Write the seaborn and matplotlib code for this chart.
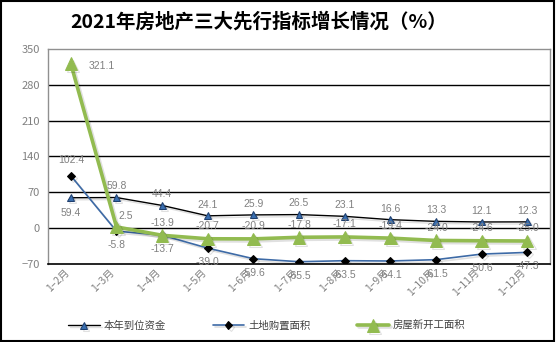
import matplotlib
matplotlib.use("Agg")
import matplotlib.pyplot as plt
import matplotlib.patheffects as pe
import seaborn as sns
import pandas as pd
from matplotlib.patches import Rectangle

months = ["1–2月", "1–3月", "1–4月", "1–5月", "1–6月", "1–7月",
          "1–8月", "1–9月", "1–10月", "1–11月", "1–12月"]
funds = [59.4, 59.8, 44.4, 24.1, 25.9, 26.5, 23.1, 16.6, 13.3, 12.1, 12.3]
land = [102.4, -5.8, -13.7, -39.0, -59.6, -65.5, -63.5, -64.1, -61.5, -50.6, -47.3]
starts = [321.1, 2.5, -13.9, -20.7, -20.9, -17.8, -17.1, -19.4, -24.0, -24.6, -25.0]
series_names = ["本年到位资金", "土地购置面积", "房屋新开工面积"]
yticks = [-70, 0, 70, 140, 210, 280, 350]

sns.set_theme(style="white")
plt.rcParams["font.family"] = ["Noto Sans CJK SC", "DejaVu Sans"]
plt.rcParams["axes.unicode_minus"] = True

fig = plt.figure(figsize=(5.56, 3.42), dpi=100)
ax = fig.add_axes([0.0863, 0.228, 0.903, 0.629])

df = pd.DataFrame({"month": months, "funds": funds, "land": land, "starts": starts})
df["pos"] = range(len(months))

shadow = [pe.SimpleLineShadow(offset=(1.5, -1.5), alpha=0.12, shadow_color="black"),
          pe.Normal()]

sns.lineplot(data=df, x="pos", y="funds", ax=ax, color="black", lw=1.0,
             marker="^", markersize=5, markerfacecolor="#3a6fb0",
             markeredgecolor="#1f3f6e", label=series_names[0], sort=False)
sns.lineplot(data=df, x="pos", y="land", ax=ax, color="#3d6aa6", lw=1.2,
             marker="D", markersize=4, markerfacecolor="black",
             markeredgecolor="black", label=series_names[1], sort=False)
sns.lineplot(data=df, x="pos", y="starts", ax=ax, color="#92bb50", lw=2.6,
             marker="^", markersize=9, markerfacecolor="#92bb50",
             markeredgecolor="#92bb50", label=series_names[2], sort=False)
for ln in ax.get_lines():
    ln.set_path_effects(shadow)

ax.set_xlim(-0.5, len(months) - 0.5)
ax.set_ylim(-70, 350)
ax.set_yticks(yticks)
ax.set_xticks(range(len(months)))
ax.set_xticklabels(months, rotation=45, ha="right", va="top",
                   rotation_mode="default", fontsize=7.5, color="#808080")
ax.tick_params(axis="y", labelsize=8, colors="#808080", length=0, pad=6)
ax.tick_params(axis="x", length=0, pad=2)
ax.set_xlabel("")
ax.set_ylabel("")

for y in yticks[1:-1]:
    ax.axhline(y, color="black", lw=1.0, zorder=0)
for side in ["top", "left", "right"]:
    ax.spines[side].set_color("#909090")
    ax.spines[side].set_linewidth(1.0)
ax.spines["bottom"].set_color("black")
ax.spines["bottom"].set_linewidth(1.2)

lab = dict(fontsize=7.5, color="#808080", family=["Liberation Sans", "DejaVu Sans"],
           ha="center", va="center", textcoords="offset points")
for i, v in enumerate(funds):
    dy = -11 if i == 0 else 8
    ax.annotate(f"{v:.1f}", (i, v), xytext=(0, dy), **lab)
for i, v in enumerate(land):
    off = (0, 11) if i == 0 else (0, -10)
    ax.annotate(f"{v:.1f}", (i, v), xytext=off, **lab)
for i, v in enumerate(starts):
    if i == 0:
        off = (22, -2)
    elif i == 1:
        off = (7, 8)
    else:
        off = (0, 9)
    ax.annotate(f"{v:.1f}", (i, v), xytext=off, **lab)

ax.legend_.remove()
handles, labels = ax.get_legend_handles_labels()
fig.legend(handles, labels, loc="center", bbox_to_anchor=(0.48, 0.047), ncol=3,
           frameon=False, fontsize=7.5, handlelength=3, columnspacing=4.5,
           handletextpad=0.4, labelcolor="#404040")

fig.text(0.465, 0.935, "2021年房地产三大先行指标增长情况（%）", ha="center", va="center",
         fontsize=14, fontweight="bold", color="black")

fig.patches.append(Rectangle((0.002, 0.003), 0.995, 0.994, transform=fig.transFigure,
                             fill=False, edgecolor="black", lw=1.5))

fig.savefig("out.png", dpi=100)
